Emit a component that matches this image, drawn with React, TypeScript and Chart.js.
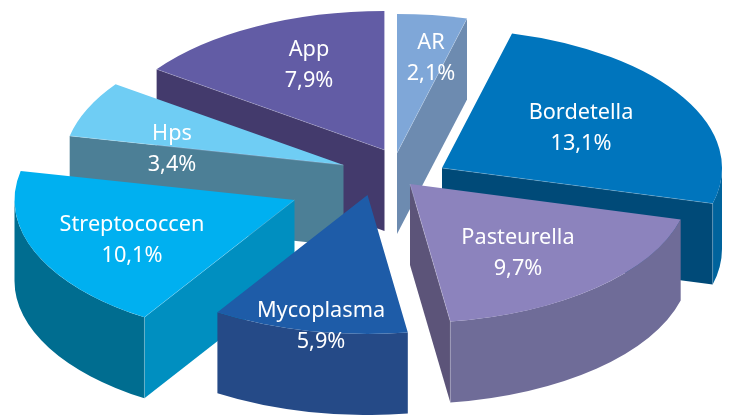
import React, { useEffect, useRef } from "react";
import { Chart, registerables } from "chart.js";

Chart.register(...registerables);

const categories = ["AR", "Bordetella", "Pasteurella", "Mycoplasma", "Streptococcen", "Hps", "App"];
const shares = [2.1, 13.1, 9.7, 5.9, 10.1, 3.4, 7.9];

const topColors = ["#7fa7d8", "#0075bd", "#8c83bd", "#1e5ca8", "#00b0f0", "#6fcdf4", "#625ca5"];
const faceColors = ["#6d8bb0", "#004a78", "#5c5479", "#254a87", "#008fc0", "#4c7f96", "#433a6c"];
const bandColors = ["#6d8bb0", "#00639c", "#6f6c98", "#254a87", "#006d90", "#4c7f96", "#433a6c"];

// Slice displacement from the pie centre and label placement, both in px relative to the chart centre.
const explodeX = [32.5, 77.5, 45.5, 3, -70, -21, 20];
const explodeY = [-54.5, -39.5, -23.5, -12.5, -7.5, -42.5, -57.5];
const labelX = [66.5, 216.5, 153.5, -43.5, -232.5, -192.5, -55.5];
const labelY = [-165, -95, 30, 103, 17, -74, -158];
const paintOrder = [0, 6, 5, 1, 4, 2, 3];

const RX = 280;
const RY = 139;
const DEPTH = 81;
const LINE = 31.5;
const FONT = '21.7px "Noto Sans"';

const formatShare = (v: number) => `${v.toFixed(1).replace(".", ",")}%`;

const pie3d = {
  id: "pie3d",
  beforeDatasetsDraw(chart: any) {
    const ctx: CanvasRenderingContext2D = chart.ctx;
    const arcs = chart.getDatasetMeta(0).data;
    for (const i of paintOrder) {
      const arc = arcs[i];
      const { x, y, startAngle: s, endAngle: e, outerRadius: r } = arc.getProps(
        ["x", "y", "startAngle", "endAngle", "outerRadius"],
        true
      );
      const ax = x + explodeX[i];
      const ay = y + explodeY[i];
      const px = (a: number) => ax + RX * Math.cos(a);
      const py = (a: number) => ay + RY * Math.sin(a);

      const visibleEdges: number[] = [];
      if (Math.cos(s) < 0) visibleEdges.push(s);
      if (Math.cos(e) > 0) visibleEdges.push(e);

      for (const a of visibleEdges) {
        ctx.beginPath();
        ctx.moveTo(ax, ay);
        ctx.lineTo(px(a), py(a));
        ctx.lineTo(px(a), py(a) + DEPTH);
        ctx.lineTo(ax, ay + DEPTH);
        ctx.closePath();
        ctx.fillStyle = faceColors[i];
        ctx.fill();
      }

      // Outer wall: only the part of the rim that faces the viewer.
      const a0 = Math.max(s, 0);
      const a1 = Math.min(e, Math.PI);
      if (a1 > a0) {
        ctx.beginPath();
        ctx.ellipse(ax, ay, RX, RY, 0, a0, a1);
        ctx.ellipse(ax, ay + DEPTH, RX, RY, 0, a1, a0, true);
        ctx.closePath();
        ctx.fillStyle = bandColors[i];
        ctx.fill();
      }

      // Top surface: the library's own arc, squashed into the ellipse.
      ctx.save();
      ctx.translate(ax, ay);
      ctx.scale(RX / r, RY / r);
      ctx.translate(-x, -y);
      arc.draw(ctx);
      ctx.restore();

      // Faint light seams along the fold lines.
      ctx.save();
      ctx.strokeStyle = "rgba(255,255,255,0.28)";
      ctx.lineWidth = 0.7;
      for (const a of visibleEdges) {
        ctx.beginPath();
        ctx.moveTo(ax, ay);
        ctx.lineTo(px(a), py(a));
        if (Math.sin(a) > 0) ctx.lineTo(px(a), py(a) + DEPTH);
        ctx.stroke();
      }
      ctx.restore();
    }

    const cx = chart.chartArea.left + chart.chartArea.width / 2;
    const cy = chart.chartArea.top + chart.chartArea.height / 2;
    ctx.save();
    ctx.fillStyle = "#ffffff";
    ctx.font = FONT;
    ctx.textAlign = "center";
    ctx.textBaseline = "middle";
    categories.forEach((name, i) => {
      ctx.fillText(name, cx + labelX[i], cy + labelY[i]);
      ctx.fillText(formatShare(shares[i]), cx + labelX[i], cy + labelY[i] + LINE);
    });
    ctx.restore();
    return false;
  },
};

export default function App() {
  const ref = useRef<HTMLCanvasElement | null>(null);
  useEffect(() => {
    document.body.style.margin = "0";
    const chart = new Chart(ref.current as HTMLCanvasElement, {
      type: "pie",
      data: {
        labels: categories,
        datasets: [{ data: shares, backgroundColor: topColors, borderWidth: 0 }],
      },
      options: {
        responsive: false,
        animation: false,
        layout: { padding: 0 },
        plugins: { legend: { display: false }, tooltip: { enabled: false } },
      },
      plugins: [pie3d],
    } as any);
    return () => chart.destroy();
  }, []);
  return <canvas ref={ref} width={729} height={415} style={{ display: "block" }} />;
}
